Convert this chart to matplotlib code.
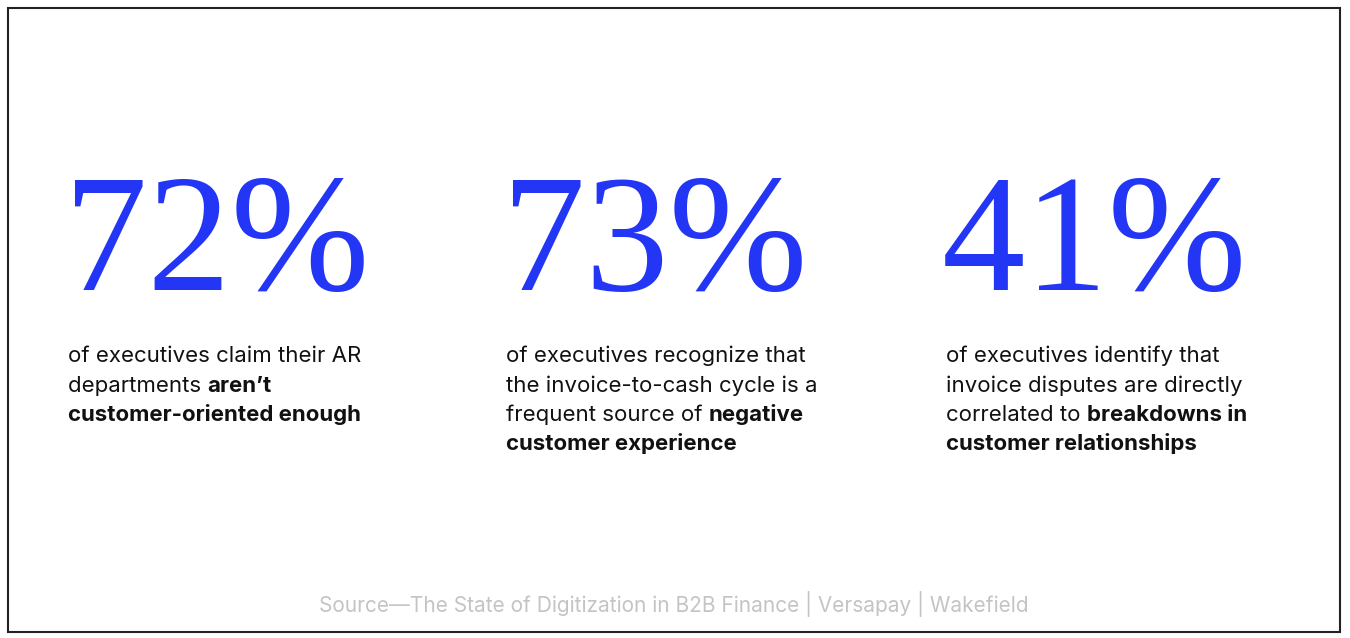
import matplotlib
matplotlib.use("Agg")
import matplotlib.pyplot as plt
from matplotlib.patches import Rectangle

values = [72, 73, 41]
x_positions = [68, 506, 946]
descriptions = [
    [[("of executives claim their AR", False)],
     [("departments ", False), ("aren\u2019t", True)],
     [("customer-oriented enough", True)]],
    [[("of executives recognize that", False)],
     [("the invoice-to-cash cycle is a", False)],
     [("frequent source of ", False), ("negative", True)],
     [("customer experience", True)]],
    [[("of executives identify that", False)],
     [("invoice disputes are directly", False)],
     [("correlated to ", False), ("breakdowns in", True)],
     [("customer relationships", True)]],
]
source = "Source\u2014The State of Digitization in B2B Finance | Versapay | Wakefield"

W, H = 1350, 638
fig = plt.figure(figsize=(W/100, H/100), dpi=100)
ax = fig.add_axes([0, 0, 1, 1])
ax.set_xlim(0, W); ax.set_ylim(H, 0); ax.axis("off")
ax.add_patch(Rectangle((8, 8), 1332, 624, fill=False, edgecolor="#222222", lw=1.5))

fig.canvas.draw()
r = fig.canvas.get_renderer()
inv = ax.transData.inverted()

for v, x0, desc in zip(values, x_positions, descriptions):
    ax.text(x0 - 4, 290, f"{v}%", family="Liberation Serif", fontsize=120,
            color="#2335f5", va="baseline", ha="left")
    y = 362
    for line in desc:
        x = x0
        for txt, bold in line:
            t = ax.text(x, y, txt, family="Inter", fontsize=16,
                        fontweight="bold" if bold else "normal",
                        color="#111111", va="baseline", ha="left")
            bb = t.get_window_extent(renderer=r)
            x = inv.transform((bb.x1, bb.y0))[0]
        y += 29.5

ax.text(674, 612, source, family="Inter", fontsize=15, color="#c4c4c4",
        ha="center", va="baseline")
fig.savefig("out.png", dpi=100)
